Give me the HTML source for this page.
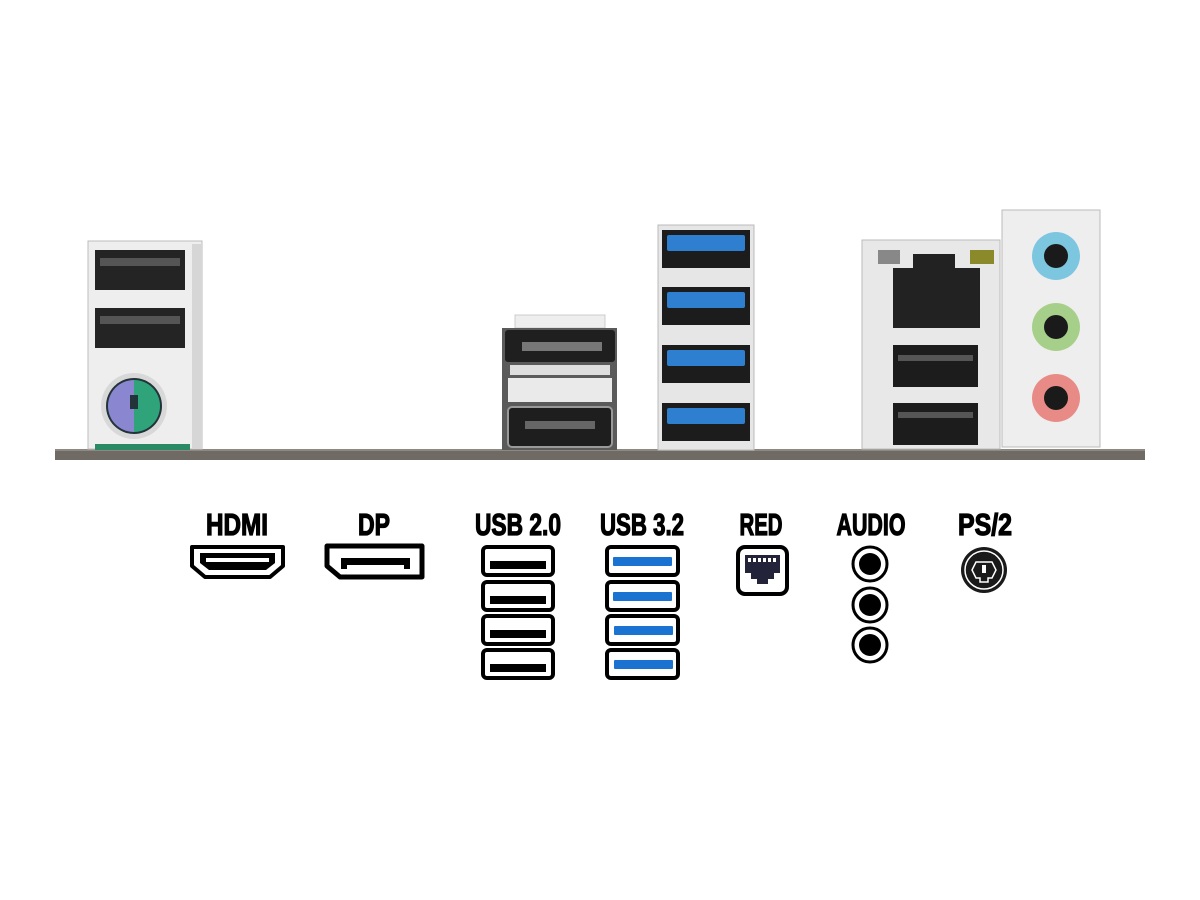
<!DOCTYPE html>
<html><head><meta charset="utf-8"><style>
html,body{margin:0;padding:0;background:#fff;}
svg{display:block}
text{font-family:"Liberation Sans",sans-serif;font-weight:bold;fill:#000}
</style></head><body>
<svg width="1200" height="900" viewBox="0 0 1200 900" xmlns="http://www.w3.org/2000/svg">
<rect width="1200" height="900" fill="#fff"/>
<rect x="55" y="449" width="1090" height="11" fill="#6f6a63"/>
<rect x="55" y="449" width="1090" height="2" fill="#8d8882"/>

<rect x="88" y="241" width="114" height="208" fill="#eeeeee" stroke="#bdbdbd"/>
<rect x="192" y="244" width="10" height="205" fill="#d6d6d6"/>
<rect x="95" y="250" width="90" height="40" fill="#242424"/>
<rect x="100" y="258" width="80" height="8" fill="#555"/>
<rect x="95" y="308" width="90" height="40" fill="#242424"/>
<rect x="100" y="316" width="80" height="8" fill="#555"/>
<circle cx="134" cy="406" r="33" fill="#d8d8d8"/>
<circle cx="134" cy="406" r="28" fill="#23333a"/>
<path d="M134 380 A26 26 0 0 0 134 432 Z" fill="#8a87d0"/>
<path d="M134 380 A26 26 0 0 1 134 432 Z" fill="#2fa47a"/>
<rect x="130" y="395" width="8" height="14" fill="#23333a"/>
<rect x="95" y="444" width="95" height="6" fill="#2a8a66"/>

<rect x="515" y="315" width="90" height="13" fill="#eeeeee" stroke="#ccc"/>
<rect x="502" y="328" width="115" height="122" fill="#5a5a5a"/>
<rect x="505" y="330" width="110" height="32" fill="#1f1f1f" rx="3"/>
<rect x="522" y="342" width="80" height="9" fill="#777"/>
<rect x="510" y="365" width="100" height="10" fill="#ddd"/>
<rect x="508" y="378" width="104" height="24" fill="#eaeaea"/>
<rect x="508" y="407" width="104" height="40" fill="#1e1e1e" rx="4" stroke="#999" stroke-width="2"/>
<rect x="525" y="421" width="70" height="8" fill="#666"/>

<rect x="658" y="225" width="96" height="225" fill="#e6e6e6" stroke="#bbb"/>
<rect x="662" y="230" width="88" height="38" fill="#1c1c1c"/><rect x="667" y="235" width="78" height="16" fill="#2f7fd0" rx="2"/>
<rect x="662" y="287" width="88" height="38" fill="#1c1c1c"/><rect x="667" y="292" width="78" height="16" fill="#2f7fd0" rx="2"/>
<rect x="662" y="345" width="88" height="38" fill="#1c1c1c"/><rect x="667" y="350" width="78" height="16" fill="#2f7fd0" rx="2"/>
<rect x="662" y="403" width="88" height="38" fill="#1c1c1c"/><rect x="667" y="408" width="78" height="16" fill="#2f7fd0" rx="2"/>

<rect x="862" y="240" width="138" height="209" fill="#e8e8e8" stroke="#bbb"/>
<rect x="878" y="250" width="22" height="14" fill="#888"/>
<rect x="970" y="250" width="24" height="14" fill="#8a8a2a"/>
<path d="M893 268 H913 V254 H955 V268 H980 V328 H893 Z" fill="#222"/>
<rect x="893" y="345" width="85" height="42" fill="#1c1c1c"/>
<rect x="898" y="355" width="75" height="6" fill="#555"/>
<rect x="893" y="403" width="85" height="42" fill="#1c1c1c"/>
<rect x="898" y="412" width="75" height="6" fill="#555"/>

<rect x="1002" y="210" width="98" height="237" fill="#eeeeee" stroke="#bbb"/>
<circle cx="1056" cy="256" r="24" fill="#7cc6e0"/><circle cx="1056" cy="256" r="12" fill="#1a1a1a"/>
<circle cx="1056" cy="327" r="24" fill="#a6d08a"/><circle cx="1056" cy="327" r="12" fill="#1a1a1a"/>
<circle cx="1056" cy="398" r="24" fill="#e88b86"/><circle cx="1056" cy="398" r="12" fill="#1a1a1a"/>

<g font-size="31" stroke="#000" stroke-width="1.3">
<text x="237" y="535" text-anchor="middle" textLength="62" lengthAdjust="spacingAndGlyphs">HDMI</text>
<text x="374" y="535" text-anchor="middle" textLength="32" lengthAdjust="spacingAndGlyphs">DP</text>
<text x="518" y="535" text-anchor="middle" textLength="86" lengthAdjust="spacingAndGlyphs">USB 2.0</text>
<text x="642" y="535" text-anchor="middle" textLength="84" lengthAdjust="spacingAndGlyphs">USB 3.2</text>
<text x="761" y="535" text-anchor="middle" textLength="43" lengthAdjust="spacingAndGlyphs">RED</text>
<text x="871" y="535" text-anchor="middle" textLength="69" lengthAdjust="spacingAndGlyphs">AUDIO</text>
<text x="985" y="535" text-anchor="middle" textLength="54" lengthAdjust="spacingAndGlyphs">PS/2</text>
</g>

<path d="M192 547 H283 V566 L270 577 H205 L192 566 Z" fill="#fff" stroke="#000" stroke-width="4" stroke-linejoin="round"/>
<path d="M200 553 H275 V563 L266 570 H209 L200 563 Z" fill="#000"/>
<rect x="206" y="558" width="63" height="4" fill="#fff"/>
<path d="M327 546 H422 V577 H340 L327 566 Z" fill="#fff" stroke="#000" stroke-width="5" stroke-linejoin="round"/>
<path d="M341 558 H410 V569 H404 V565 H347 V569 H341 Z" fill="#000"/>

<g fill="#fff" stroke="#000" stroke-width="4">
<rect x="483" y="547" width="70" height="28" rx="4"/>
<rect x="483" y="582" width="70" height="28" rx="4"/>
<rect x="483" y="616" width="70" height="28" rx="4"/>
<rect x="483" y="650" width="70" height="28" rx="4"/>
</g>
<g fill="#000">
<rect x="490" y="561" width="56" height="8"/>
<rect x="490" y="596" width="56" height="8"/>
<rect x="490" y="630" width="56" height="8"/>
<rect x="490" y="664" width="56" height="8"/>
</g>
<g fill="#fff" stroke="#000" stroke-width="4">
<rect x="607" y="547" width="71" height="28" rx="4"/>
<rect x="607" y="582" width="71" height="28" rx="4"/>
<rect x="607" y="616" width="71" height="28" rx="4"/>
<rect x="607" y="650" width="71" height="28" rx="4"/>
</g>
<g fill="#1a73d0">
<rect x="613" y="557" width="59" height="9" rx="1"/>
<rect x="613" y="592" width="59" height="9" rx="1"/>
<rect x="614" y="626" width="59" height="9" rx="1"/>
<rect x="614" y="660" width="59" height="9" rx="1"/>
</g>

<rect x="738" y="547" width="49" height="47" rx="7" fill="#fff" stroke="#000" stroke-width="4"/>
<path d="M745 555 H780 V573 H774 V579 H768 V584 H757 V579 H751 V573 H745 Z" fill="#23233a"/>
<g fill="#fff"><rect x="748" y="558" width="3" height="4"/><rect x="753" y="558" width="3" height="4"/><rect x="758" y="558" width="3" height="4"/><rect x="763" y="558" width="3" height="4"/><rect x="768" y="558" width="3" height="4"/><rect x="773" y="558" width="3" height="4"/></g>

<g fill="#fff" stroke="#000" stroke-width="3">
<circle cx="870" cy="564" r="17"/><circle cx="870" cy="605" r="17"/><circle cx="870" cy="645" r="17"/>
</g>
<g fill="#000"><circle cx="870" cy="564" r="11"/><circle cx="870" cy="605" r="11"/><circle cx="870" cy="645" r="11"/></g>

<circle cx="984" cy="570" r="23" fill="#1a1a1a"/>
<circle cx="984" cy="570" r="19" fill="none" stroke="#fff" stroke-width="1.5"/>
<path d="M976 562 H992 L996 570 L992 578 H988 V582 H980 V578 H976 L972 570 Z" fill="none" stroke="#fff" stroke-width="1.5"/>
<rect x="982" y="565" width="4" height="8" fill="#fff"/>
</svg>
</body></html>
